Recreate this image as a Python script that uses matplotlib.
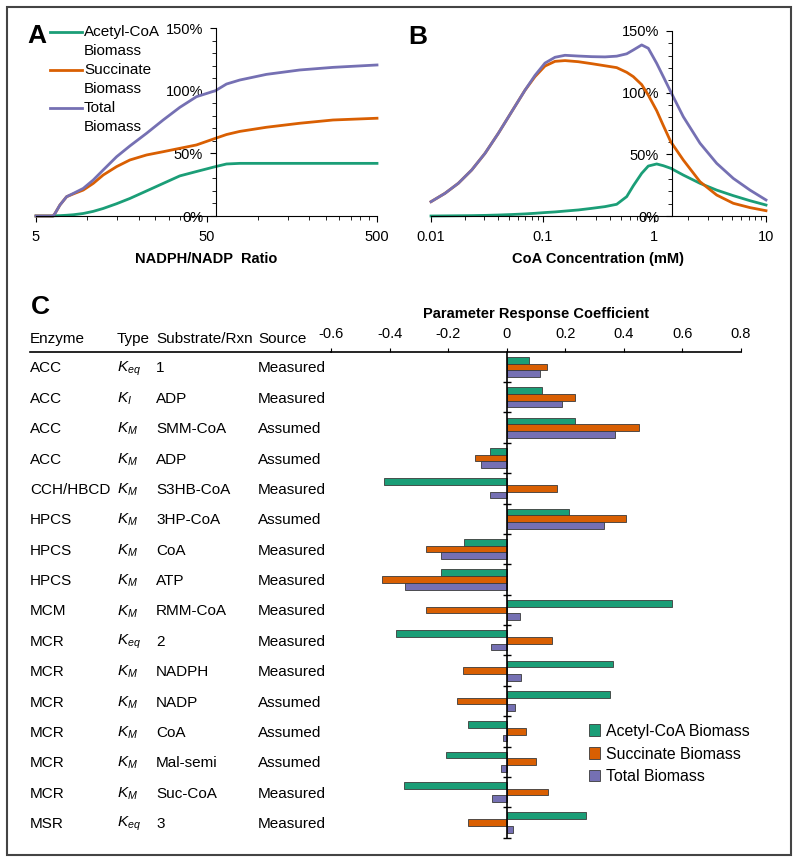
import numpy as np
import matplotlib.pyplot as plt
import matplotlib.transforms as mtransforms
from matplotlib.ticker import FuncFormatter, MultipleLocator, FixedLocator, NullFormatter
from matplotlib.patches import Rectangle, Patch
from matplotlib.lines import Line2D

plt.rcParams['font.family'] = ['Liberation Sans', 'DejaVu Sans']
plt.rcParams['mathtext.fontset'] = 'custom'
plt.rcParams['mathtext.rm'] = 'Liberation Sans'
plt.rcParams['mathtext.it'] = 'Liberation Sans:italic'

GREEN = '#1b9e77'
ORANGE = '#d95f02'
PURPLE = '#7570b3'

# ---- panel A: NADPH/NADP ratio ----
ratio_x = [5, 6.29, 6.46, 6.91, 7.56, 8.27, 9.46, 10.83, 12.39, 14.85, 17.77, 22.26,
           27.85, 34.88, 43.69, 56.46, 65.5, 78.4, 112.3, 176.1, 275.9, 500]
a_acetyl = [0, 0, 0.002, 0.003, 0.006, 0.01, 0.02, 0.037, 0.06, 0.098, 0.14, 0.20,
            0.26, 0.32, 0.355, 0.394, 0.415, 0.42, 0.42, 0.42, 0.42, 0.42]
a_succ = [0, 0, 0.02, 0.088, 0.154, 0.176, 0.207, 0.26, 0.327, 0.394, 0.447, 0.487,
          0.513, 0.54, 0.567, 0.62, 0.65, 0.675, 0.708, 0.74, 0.766, 0.78]
a_total = [0, 0, 0.02, 0.088, 0.154, 0.18, 0.22, 0.287, 0.367, 0.473, 0.559, 0.66,
           0.766, 0.867, 0.952, 1.0, 1.053, 1.085, 1.13, 1.165, 1.186, 1.205]

# ---- panel B: CoA concentration (mM) ----
coa_x = [0.01, 0.01335, 0.01756, 0.02315, 0.03045, 0.04005, 0.05281, 0.06946, 0.08537, 0.1049,
         0.129, 0.1585, 0.2085, 0.2749, 0.3615, 0.4603, 0.5656, 0.648, 0.7706, 0.8828,
         1.0498, 1.2028, 1.4014, 1.817, 2.5644, 3.618, 5.0943, 7.1895, 10]
b_acetyl = [0, 0.001, 0.002, 0.003, 0.005, 0.008, 0.012, 0.017, 0.022, 0.028,
            0.033, 0.04, 0.049, 0.062, 0.076, 0.095, 0.157, 0.245, 0.346, 0.405,
            0.422, 0.408, 0.387, 0.332, 0.265, 0.21, 0.165, 0.124, 0.089]
b_succ = [0.116, 0.184, 0.265, 0.373, 0.508, 0.67, 0.846, 1.02, 1.13, 1.216,
          1.254, 1.26, 1.251, 1.235, 1.218, 1.203, 1.165, 1.13, 1.065, 0.98,
          0.854, 0.734, 0.603, 0.454, 0.278, 0.17, 0.103, 0.068, 0.043]
b_total = [0.116, 0.184, 0.265, 0.373, 0.508, 0.67, 0.846, 1.02, 1.14, 1.24,
           1.287, 1.303, 1.297, 1.292, 1.29, 1.296, 1.315, 1.346, 1.387, 1.36,
           1.238, 1.13, 1.008, 0.805, 0.59, 0.427, 0.305, 0.21, 0.13]

# ---- panel C: parameter response coefficients ----
enzyme = ['ACC', 'ACC', 'ACC', 'ACC', 'CCH/HBCD', 'HPCS', 'HPCS', 'HPCS',
          'MCM', 'MCR', 'MCR', 'MCR', 'MCR', 'MCR', 'MCR', 'MSR']
ptype = ['$K_{eq}$', '$K_{I}$', '$K_{M}$', '$K_{M}$', '$K_{M}$', '$K_{M}$', '$K_{M}$', '$K_{M}$',
         '$K_{M}$', '$K_{eq}$', '$K_{M}$', '$K_{M}$', '$K_{M}$', '$K_{M}$', '$K_{M}$', '$K_{eq}$']
substrate = ['1', 'ADP', 'SMM-CoA', 'ADP', 'S3HB-CoA', '3HP-CoA', 'CoA', 'ATP',
             'RMM-CoA', '2', 'NADPH', 'NADP', 'CoA', 'Mal-semi', 'Suc-CoA', '3']
source = ['Measured', 'Measured', 'Assumed', 'Assumed', 'Measured', 'Assumed', 'Measured', 'Measured',
          'Measured', 'Measured', 'Measured', 'Assumed', 'Assumed', 'Assumed', 'Measured', 'Measured']
prc_acetyl = [0.075, 0.121, 0.234, -0.056, -0.419, 0.212, -0.144, -0.223,
              0.566, -0.378, 0.365, 0.352, -0.133, -0.207, -0.351, 0.272]
prc_succ = [0.139, 0.234, 0.451, -0.107, 0.171, 0.407, -0.275, -0.425,
            -0.276, 0.154, -0.148, -0.171, 0.065, 0.100, 0.141, -0.133]
prc_total = [0.113, 0.191, 0.369, -0.087, -0.056, 0.332, -0.223, -0.346,
             0.047, -0.052, 0.049, 0.028, -0.013, -0.018, -0.049, 0.023]

W, H = 800, 863
fig = plt.figure(figsize=(W / 100, H / 100), dpi=100)

def fx(px):
    return px / W

def fy(py):
    return 1 - py / H

pct = FuncFormatter(lambda v, p: f'{v * 100:.0f}%')
FS = 10.5


def style_line_axes(ax, ycross):
    ax.set_xscale('log')
    ax.set_ylim(0, 1.5)
    ax.spines['top'].set_visible(False)
    ax.spines['right'].set_visible(False)
    ax.spines['left'].set_position(('data', ycross))
    ax.yaxis.set_major_locator(MultipleLocator(0.5))
    ax.yaxis.set_minor_locator(MultipleLocator(0.1))
    ax.yaxis.set_major_formatter(pct)
    ax.tick_params(axis='both', which='major', labelsize=FS, length=4, direction='out')
    ax.tick_params(axis='both', which='minor', length=3, direction='out')
    ax.tick_params(axis='x', pad=6)
    ax.tick_params(axis='y', pad=5)
    ax.set_facecolor('none')


# Panel A
axA = fig.add_axes([fx(36), fy(216), fx(341), 188 / H])
axA.plot(ratio_x, a_acetyl, color=GREEN, lw=2, clip_on=False)
axA.plot(ratio_x, a_succ, color=ORANGE, lw=2, clip_on=False)
axA.plot(ratio_x, a_total, color=PURPLE, lw=2, clip_on=False)
style_line_axes(axA, 56.6)
axA.set_xlim(5, 500)
axA.xaxis.set_major_locator(FixedLocator([5, 50, 500]))
axA.xaxis.set_major_formatter(FuncFormatter(lambda v, p: f'{v:g}'))
axA.xaxis.set_minor_locator(FixedLocator(list(np.arange(2, 10) * 5) + list(np.arange(2, 10) * 50)))
axA.xaxis.set_minor_formatter(NullFormatter())
axA.set_xlabel('NADPH/NADP  Ratio', fontsize=FS, fontweight='bold', labelpad=6)

# manual legend for panel A (handle sits on the first text line)
leg_items = [('Acetyl-CoA', 32, GREEN), ('Succinate', 70, ORANGE), ('Total', 108, PURPLE)]
for name, py, col in leg_items:
    fig.add_artist(Line2D([fx(50), fx(82)], [fy(py), fy(py)], color=col, lw=2))
    fig.text(fx(84), fy(py), name, fontsize=FS + 0.5, va='center', ha='left')
    fig.text(fx(84), fy(py + 19), 'Biomass', fontsize=FS + 0.5, va='center', ha='left')

# Panel B
axB = fig.add_axes([fx(431), fy(216), fx(335), 185 / H])
axB.plot(coa_x, b_acetyl, color=GREEN, lw=2, clip_on=False)
axB.plot(coa_x, b_succ, color=ORANGE, lw=2, clip_on=False)
axB.plot(coa_x, b_total, color=PURPLE, lw=2, clip_on=False)
style_line_axes(axB, 1.43)
axB.set_xlim(0.01, 10)
axB.xaxis.set_major_locator(FixedLocator([0.01, 0.1, 1, 10]))
axB.xaxis.set_major_formatter(FuncFormatter(lambda v, p: f'{v:g}'))
axB.xaxis.set_minor_formatter(NullFormatter())
axB.set_xlabel('CoA Concentration (mM)', fontsize=FS, fontweight='bold', labelpad=6)

# Panel C
axC = fig.add_axes([fx(331), fy(837.7), fx(740.7 - 331), (837.7 - 351.7) / H])
rows = np.arange(len(enzyme))
h = 0.22
axC.barh(rows - h, prc_acetyl, height=h, color=GREEN, edgecolor='#3a3a3a', lw=0.6)
axC.barh(rows, prc_succ, height=h, color=ORANGE, edgecolor='#3a3a3a', lw=0.6)
axC.barh(rows + h, prc_total, height=h, color=PURPLE, edgecolor='#3a3a3a', lw=0.6)
axC.set_xlim(-0.6, 0.8)
axC.set_ylim(len(enzyme) - 0.5, -0.5)
axC.xaxis.tick_top()
axC.set_xticks(np.arange(-0.6, 0.81, 0.2))
axC.xaxis.set_major_formatter(FuncFormatter(lambda v, p: '0' if abs(v) < 1e-9 else f'{v:.1f}'))
axC.tick_params(axis='x', labelsize=FS, length=3, direction='out', pad=5)
axC.set_yticks(rows + 0.5)
axC.set_yticklabels([])
axC.tick_params(axis='y', direction='inout', length=6, width=1)
axC.spines['left'].set_position(('data', 0))
axC.spines['bottom'].set_visible(False)
axC.spines['right'].set_visible(False)
axC.spines['left'].set_linewidth(1.2)
axC.spines['top'].set_linewidth(1.2)
axC.set_title('Parameter Response Coefficient', fontsize=FS, fontweight='bold', pad=6)
axC.set_facecolor('none')

# table of parameters beside the bars
trans = mtransforms.blended_transform_factory(fig.transFigure, axC.transData)
cols_x = [fx(30), fx(117), fx(156), fx(258)]
for i in rows:
    for cx, txt in zip(cols_x, [enzyme[i], ptype[i], substrate[i], source[i]]):
        axC.text(cx, i + 0.05, txt, transform=trans, fontsize=FS + 0.5, va='center', ha='left')
for cx, txt in zip(cols_x, ['Enzyme', 'Type', 'Substrate/Rxn', 'Source']):
    fig.text(cx, fy(339), txt, fontsize=FS + 0.5, va='center', ha='left')
fig.add_artist(Line2D([fx(30), fx(331)], [fy(351.7), fy(351.7)], color='black', lw=1.2))

handles = [Patch(facecolor=c, edgecolor='#3a3a3a', lw=0.6) for c in (GREEN, ORANGE, PURPLE)]
fig.legend(handles, ['Acetyl-CoA Biomass', 'Succinate Biomass', 'Total Biomass'],
           loc='center left', bbox_to_anchor=(fx(589), fy(754)), frameon=False,
           fontsize=11.4, handlelength=0.7, handleheight=0.7, handletextpad=0.35,
           labelspacing=0.5, borderpad=0, borderaxespad=0)

# panel letters
fig.text(fx(27), fy(36), 'A', fontsize=19, fontweight='bold', va='center', ha='left')
fig.text(fx(408), fy(37), 'B', fontsize=19, fontweight='bold', va='center', ha='left')
fig.text(fx(31), fy(307), 'C', fontsize=19, fontweight='bold', va='center', ha='left')

# outer frame
fig.add_artist(Rectangle((fx(7), fy(855)), fx(791 - 7), (855 - 7) / H, transform=fig.transFigure,
                         fill=False, edgecolor='#444444', lw=1.5))

fig.savefig('out.png', dpi=100)
